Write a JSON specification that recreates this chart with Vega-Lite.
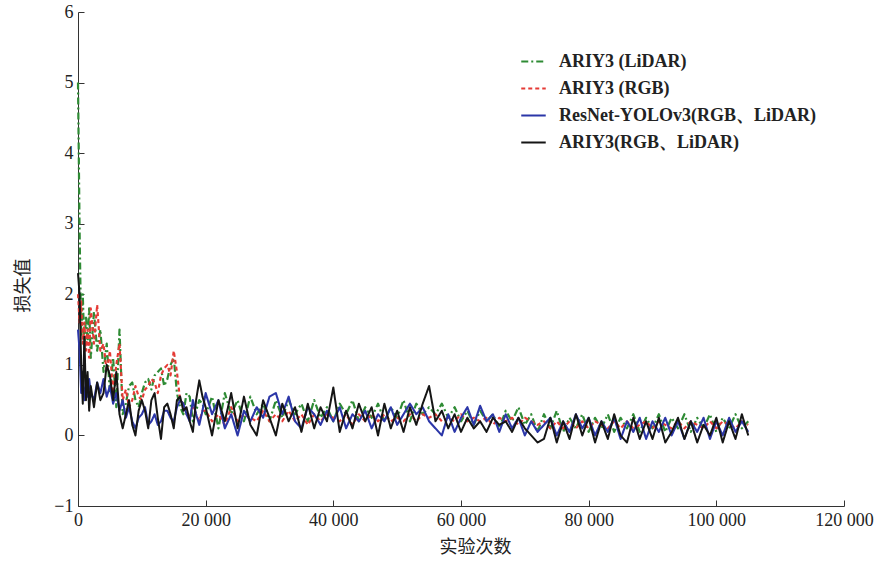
{
  "$schema": "https://vega.github.io/schema/vega-lite/v6.json",
  "autosize": {"type": "none"},
  "padding": {"left": 78, "top": 12, "right": 30, "bottom": 57},
  "width": 766,
  "height": 494,
  "background": "white",
  "config": {"view": {"stroke": null}},
  "data": {"values": [
    {"x":0,"g":5.0,"r":2.0,"b":1.5,"k":2.3},
    {"x":250,"g":2.9,"r":1.6,"b":1.2,"k":2.0},
    {"x":500,"g":1.4,"r":1.9,"b":0.6,"k":1.0},
    {"x":750,"g":2.0,"r":1.3,"b":0.9,"k":0.45},
    {"x":1000,"g":1.2,"r":1.6,"b":0.5,"k":1.4},
    {"x":1250,"g":1.7,"r":1.2,"b":0.7,"k":0.5},
    {"x":1500,"g":1.3,"r":1.5,"b":0.55,"k":0.9},
    {"x":1750,"g":1.8,"r":1.1,"b":0.8,"k":0.35},
    {"x":2000,"g":1.1,"r":1.8,"b":0.6,"k":0.7},
    {"x":2500,"g":1.75,"r":1.3,"b":0.5,"k":0.4},
    {"x":3000,"g":1.2,"r":1.85,"b":0.75,"k":0.75},
    {"x":3500,"g":1.5,"r":1.2,"b":0.6,"k":0.5},
    {"x":4000,"g":0.9,"r":1.3,"b":0.8,"k":0.6},
    {"x":4500,"g":1.3,"r":0.9,"b":0.55,"k":1.0},
    {"x":5000,"g":0.6,"r":1.2,"b":0.7,"k":0.85},
    {"x":5500,"g":1.1,"r":0.6,"b":0.45,"k":0.5},
    {"x":6000,"g":0.4,"r":1.0,"b":0.6,"k":0.9},
    {"x":6500,"g":1.5,"r":1.3,"b":0.35,"k":0.3},
    {"x":7000,"g":0.3,"r":0.5,"b":0.5,"k":0.1},
    {"x":7500,"g":0.45,"r":0.65,"b":0.25,"k":0.3},
    {"x":8000,"g":0.7,"r":0.4,"b":0.4,"k":0.5},
    {"x":8500,"g":0.75,"r":0.5,"b":0.2,"k":0.15},
    {"x":9000,"g":0.5,"r":0.7,"b":0.1,"k":0.0},
    {"x":9500,"g":0.4,"r":0.55,"b":0.25,"k":0.35},
    {"x":10000,"g":0.6,"r":0.5,"b":0.3,"k":0.5},
    {"x":10500,"g":0.75,"r":0.65,"b":0.4,"k":0.35},
    {"x":11000,"g":0.8,"r":0.7,"b":0.15,"k":0.1},
    {"x":11500,"g":0.65,"r":0.8,"b":0.2,"k":0.5},
    {"x":12000,"g":0.85,"r":0.75,"b":0.3,"k":0.6},
    {"x":12500,"g":0.9,"r":0.6,"b":0.15,"k":0.25},
    {"x":13000,"g":0.95,"r":0.85,"b":0.2,"k":-0.05},
    {"x":13500,"g":0.7,"r":0.95,"b":0.35,"k":0.4},
    {"x":14000,"g":0.8,"r":1.0,"b":0.35,"k":0.45},
    {"x":14500,"g":1.0,"r":0.85,"b":0.25,"k":0.3},
    {"x":15000,"g":1.1,"r":1.2,"b":0.2,"k":0.1},
    {"x":15500,"g":0.6,"r":0.9,"b":0.4,"k":0.5},
    {"x":16000,"g":0.4,"r":0.5,"b":0.5,"k":0.55},
    {"x":16500,"g":0.3,"r":0.45,"b":0.45,"k":0.35},
    {"x":17000,"g":0.6,"r":0.3,"b":0.3,"k":0.4},
    {"x":17500,"g":0.55,"r":0.25,"b":0.2,"k":0.2},
    {"x":18000,"g":0.2,"r":0.4,"b":0.5,"k":0.05},
    {"x":18500,"g":0.35,"r":0.3,"b":0.3,"k":0.5},
    {"x":19000,"g":0.5,"r":0.2,"b":0.15,"k":0.78},
    {"x":19500,"g":0.45,"r":0.35,"b":0.35,"k":0.55},
    {"x":20000,"g":0.3,"r":0.35,"b":0.6,"k":0.4},
    {"x":21000,"g":0.55,"r":0.2,"b":0.3,"k":0.0},
    {"x":22000,"g":0.1,"r":0.3,"b":0.5,"k":0.5},
    {"x":23000,"g":0.6,"r":0.15,"b":0.1,"k":0.2},
    {"x":24000,"g":0.3,"r":0.4,"b":0.3,"k":0.6},
    {"x":25000,"g":0.5,"r":0.2,"b":0.0,"k":0.1},
    {"x":26000,"g":0.2,"r":0.3,"b":0.35,"k":0.55},
    {"x":27000,"g":0.55,"r":0.25,"b":0.2,"k":0.15},
    {"x":28000,"g":0.3,"r":0.2,"b":0.4,"k":0.0},
    {"x":29000,"g":0.45,"r":0.35,"b":0.25,"k":0.5},
    {"x":30000,"g":0.2,"r":0.2,"b":0.55,"k":0.25},
    {"x":31000,"g":0.5,"r":0.3,"b":0.6,"k":0.0},
    {"x":32000,"g":0.25,"r":0.2,"b":0.3,"k":0.45},
    {"x":33000,"g":0.5,"r":0.35,"b":0.55,"k":0.2},
    {"x":34000,"g":0.3,"r":0.2,"b":0.2,"k":0.4},
    {"x":35000,"g":0.45,"r":0.3,"b":0.1,"k":0.05},
    {"x":36000,"g":0.2,"r":0.15,"b":0.4,"k":0.45},
    {"x":37000,"g":0.5,"r":0.3,"b":0.3,"k":0.1},
    {"x":38000,"g":0.25,"r":0.2,"b":0.15,"k":0.4},
    {"x":39000,"g":0.4,"r":0.3,"b":0.35,"k":0.2},
    {"x":40000,"g":0.2,"r":0.25,"b":0.2,"k":0.68},
    {"x":41000,"g":0.45,"r":0.2,"b":0.4,"k":0.05},
    {"x":42000,"g":0.3,"r":0.3,"b":0.1,"k":0.35},
    {"x":43000,"g":0.5,"r":0.15,"b":0.3,"k":0.1},
    {"x":44000,"g":0.2,"r":0.3,"b":0.2,"k":0.45},
    {"x":45000,"g":0.4,"r":0.2,"b":0.35,"k":0.2},
    {"x":46000,"g":0.25,"r":0.3,"b":0.1,"k":0.4},
    {"x":47000,"g":0.45,"r":0.2,"b":0.3,"k":0.0},
    {"x":48000,"g":0.2,"r":0.3,"b":0.2,"k":0.45},
    {"x":49000,"g":0.4,"r":0.2,"b":0.4,"k":0.1},
    {"x":50000,"g":0.25,"r":0.25,"b":0.15,"k":0.35},
    {"x":51000,"g":0.5,"r":0.2,"b":0.3,"k":0.05},
    {"x":52000,"g":0.2,"r":0.3,"b":0.45,"k":0.4},
    {"x":53000,"g":0.45,"r":0.2,"b":0.3,"k":0.15},
    {"x":54000,"g":0.3,"r":0.3,"b":0.4,"k":0.45},
    {"x":55000,"g":0.4,"r":0.25,"b":0.2,"k":0.7},
    {"x":56000,"g":0.3,"r":0.3,"b":0.1,"k":0.2},
    {"x":57000,"g":0.45,"r":0.2,"b":0.0,"k":0.35},
    {"x":58000,"g":0.25,"r":0.25,"b":0.3,"k":0.1},
    {"x":59000,"g":0.4,"r":0.2,"b":0.05,"k":0.3},
    {"x":60000,"g":0.2,"r":0.3,"b":0.25,"k":0.05},
    {"x":61000,"g":0.35,"r":0.2,"b":0.4,"k":0.25},
    {"x":62000,"g":0.15,"r":0.25,"b":0.15,"k":0.1},
    {"x":63000,"g":0.35,"r":0.2,"b":0.42,"k":0.2},
    {"x":64000,"g":0.2,"r":0.25,"b":0.2,"k":0.05},
    {"x":65000,"g":0.3,"r":0.15,"b":0.3,"k":0.25},
    {"x":66000,"g":0.1,"r":0.25,"b":0.05,"k":0.15},
    {"x":67000,"g":0.35,"r":0.2,"b":0.3,"k":0.2},
    {"x":68000,"g":0.2,"r":0.25,"b":0.1,"k":0.05},
    {"x":69000,"g":0.4,"r":0.15,"b":0.25,"k":0.25},
    {"x":70000,"g":0.15,"r":0.25,"b":0.0,"k":0.1},
    {"x":71000,"g":0.3,"r":0.2,"b":0.2,"k":0.0},
    {"x":72000,"g":0.05,"r":0.15,"b":0.05,"k":-0.1},
    {"x":73000,"g":0.3,"r":0.2,"b":0.15,"k":-0.05},
    {"x":74000,"g":0.1,"r":0.1,"b":0.25,"k":0.25},
    {"x":75000,"g":0.35,"r":0.2,"b":0.0,"k":-0.1},
    {"x":76000,"g":0.05,"r":0.1,"b":0.2,"k":0.2},
    {"x":77000,"g":0.25,"r":0.2,"b":0.05,"k":-0.05},
    {"x":78000,"g":0.1,"r":0.1,"b":0.3,"k":0.3},
    {"x":79000,"g":0.3,"r":0.2,"b":0.1,"k":0.0},
    {"x":80000,"g":0.05,"r":0.1,"b":0.25,"k":0.25},
    {"x":81000,"g":0.25,"r":0.2,"b":0.0,"k":-0.1},
    {"x":82000,"g":0.1,"r":0.15,"b":0.2,"k":0.2},
    {"x":83000,"g":0.3,"r":0.1,"b":0.05,"k":-0.05},
    {"x":84000,"g":0.05,"r":0.2,"b":0.25,"k":0.3},
    {"x":85000,"g":0.25,"r":0.1,"b":-0.05,"k":0.0},
    {"x":86000,"g":0.1,"r":0.2,"b":0.2,"k":-0.1},
    {"x":87000,"g":0.3,"r":0.1,"b":0.05,"k":0.25},
    {"x":88000,"g":0.05,"r":0.15,"b":0.25,"k":-0.05},
    {"x":89000,"g":0.25,"r":0.2,"b":-0.05,"k":0.2},
    {"x":90000,"g":0.1,"r":0.1,"b":0.2,"k":-0.05},
    {"x":91000,"g":0.3,"r":0.2,"b":0.05,"k":0.25},
    {"x":92000,"g":0.05,"r":0.15,"b":0.25,"k":-0.1},
    {"x":93000,"g":0.25,"r":0.1,"b":0.0,"k":0.05},
    {"x":94000,"g":0.1,"r":0.2,"b":0.2,"k":0.25},
    {"x":95000,"g":0.3,"r":0.1,"b":-0.05,"k":-0.05},
    {"x":96000,"g":0.05,"r":0.2,"b":0.2,"k":0.2},
    {"x":97000,"g":0.25,"r":0.15,"b":0.05,"k":-0.1},
    {"x":98000,"g":0.1,"r":0.1,"b":0.25,"k":0.15},
    {"x":99000,"g":0.3,"r":0.2,"b":-0.05,"k":0.0},
    {"x":100000,"g":0.05,"r":0.1,"b":0.2,"k":0.25},
    {"x":101000,"g":0.25,"r":0.2,"b":0.0,"k":-0.1},
    {"x":102000,"g":0.1,"r":0.15,"b":0.25,"k":0.2},
    {"x":103000,"g":0.3,"r":0.1,"b":0.05,"k":-0.05},
    {"x":104000,"g":0.1,"r":0.2,"b":0.2,"k":0.3},
    {"x":105000,"g":0.2,"r":0.15,"b":0.05,"k":0.0}
  ]},
  "transform": [{"fold": ["g", "r", "b", "k"], "as": ["s", "v"]}],
  "mark": {"type": "line", "strokeJoin": "round"},
  "encoding": {
    "x": {
      "field": "x", "type": "quantitative",
      "scale": {"domain": [0, 120000], "nice": false, "zero": false},
      "axis": {
        "title": "实验次数",
        "values": [0, 20000, 40000, 60000, 80000, 100000, 120000],
        "labelExpr": "replace(format(datum.value, ','), ',', ' ')",
        "labelFlush": false,
        "grid": false,
        "domainColor": "#333", "tickColor": "#333",
        "tickSize": -6, "labelPadding": 11,
        "labelFont": "Liberation Serif", "labelFontSize": 18, "labelColor": "#222",
        "titleFont": "Noto Sans CJK SC", "titleFontSize": 18, "titleFontWeight": "normal", "titleColor": "#222",
        "titleX": 397, "titleY": 32
      }
    },
    "y": {
      "field": "v", "type": "quantitative",
      "scale": {"domain": [-1, 6], "nice": false, "zero": false},
      "axis": {
        "title": "损失值",
        "values": [-1, 0, 1, 2, 3, 4, 5, 6],
        "grid": false,
        "domainColor": "#333", "tickColor": "#333",
        "tickSize": -6, "labelPadding": 11,
        "labelFont": "Liberation Serif", "labelFontSize": 18, "labelColor": "#222",
        "titleFont": "Noto Sans CJK SC", "titleFontSize": 18, "titleFontWeight": "normal", "titleColor": "#222",
        "titleX": -46, "titleY": 273
      }
    },
    "color": {
      "field": "s", "type": "nominal",
      "scale": {"domain": ["g", "r", "b", "k"], "range": ["#2e8b34", "#e53a35", "#2b36a8", "#151515"]},
      "legend": {
        "title": null,
        "orient": "none", "legendX": 442, "legendY": 36,
        "symbolType": "stroke", "symbolSize": 600,
        "labelFont": "Liberation Serif", "labelFontSize": 18, "labelFontWeight": "bold", "labelColor": "#222",
        "labelOffset": 12, "rowPadding": 4, "labelLimit": 400,
        "labelExpr": "datum.label == 'g' ? 'ARIY3 (LiDAR)' : datum.label == 'r' ? 'ARIY3 (RGB)' : datum.label == 'b' ? 'ResNet-YOLOv3(RGB、LiDAR)' : 'ARIY3(RGB、LiDAR)'"
      }
    },
    "strokeDash": {
      "field": "s", "type": "nominal",
      "scale": {"domain": ["g", "r", "b", "k"], "range": [[7, 3, 2, 3], [4, 3], [1, 0], [1, 0]]},
      "legend": {
        "title": null,
        "orient": "none", "legendX": 442, "legendY": 36,
        "symbolType": "stroke", "symbolSize": 600,
        "labelFont": "Liberation Serif", "labelFontSize": 18, "labelFontWeight": "bold", "labelColor": "#222",
        "labelOffset": 12, "rowPadding": 4, "labelLimit": 400,
        "labelExpr": "datum.label == 'g' ? 'ARIY3 (LiDAR)' : datum.label == 'r' ? 'ARIY3 (RGB)' : datum.label == 'b' ? 'ResNet-YOLOv3(RGB、LiDAR)' : 'ARIY3(RGB、LiDAR)'"
      }
    },
    "strokeWidth": {
      "field": "s", "type": "nominal",
      "scale": {"domain": ["g", "r", "b", "k"], "range": [2.2, 2, 2.5, 3]},
      "legend": {
        "title": null,
        "orient": "none", "legendX": 442, "legendY": 36,
        "symbolType": "stroke", "symbolSize": 600,
        "labelFont": "Liberation Serif", "labelFontSize": 18, "labelFontWeight": "bold", "labelColor": "#222",
        "labelOffset": 12, "rowPadding": 4, "labelLimit": 400,
        "labelExpr": "datum.label == 'g' ? 'ARIY3 (LiDAR)' : datum.label == 'r' ? 'ARIY3 (RGB)' : datum.label == 'b' ? 'ResNet-YOLOv3(RGB、LiDAR)' : 'ARIY3(RGB、LiDAR)'"
      }
    },
    "order": {"field": "x", "type": "quantitative"}
  }
}
